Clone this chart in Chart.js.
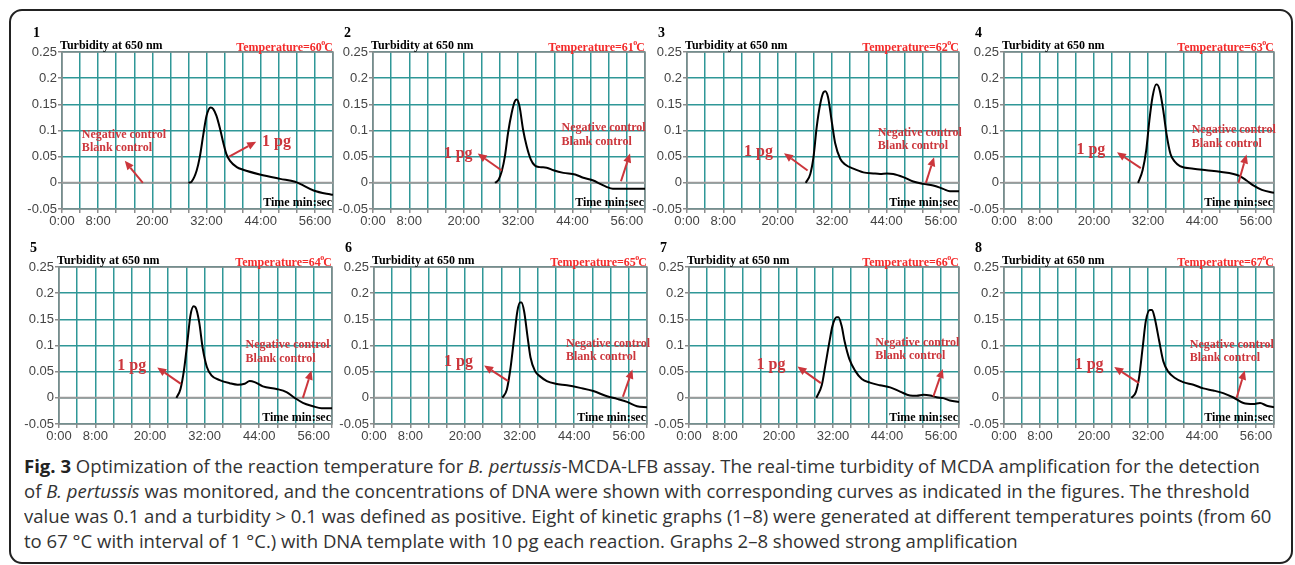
<!DOCTYPE html>
<html>
<head>
<meta charset="utf-8">
<script src="https://cdn.jsdelivr.net/npm/chart.js@4/dist/chart.umd.min.js"></script>
<style>
  html, body { margin:0; padding:0; background:#fff; }
  body { width:1295px; height:565px; position:relative; overflow:hidden; }
  #frame { position:absolute; left:9px; top:9px; width:1280px; height:551px; border:2px solid #222; border-radius:13px; }
  canvas { position:absolute; }
  .cap { position:absolute; left:24px; white-space:nowrap; transform-origin:0 0; font-family:"Open Sans", sans-serif; font-size:18px; line-height:25px; color:#333; }
  .cap b { font-weight:700; color:#222; }
</style>
</head>
<body>
<div id="frame"></div>

<div class="cap" style="top:454px"><b>Fig. 3</b> Optimization of the reaction temperature for <i>B. pertussis</i>-MCDA-LFB assay. The real-time turbidity of MCDA amplification for the detection</div>
<div class="cap" style="top:479px">of <i>B. pertussis</i> was monitored, and the concentrations of DNA were shown with corresponding curves as indicated in the figures. The threshold</div>
<div class="cap" style="top:504px">value was 0.1 and a turbidity &gt; 0.1 was defined as positive. Eight of kinetic graphs (1–8) were generated at different temperatures points (from 60</div>
<div class="cap" style="top:529px">to 67 °C with interval of 1 °C.) with DNA template with 10 pg each reaction. Graphs 2–8 showed strong amplification</div>

<script>
// ---------------- DATA ----------------
const panelNumbers = ['1','2','3','4','5','6','7','8'];
const temperatures = [60, 61, 62, 63, 64, 65, 66, 67];

const xTickMinutes = [0, 8, 20, 32, 44, 56];
const xTickLabels  = ['0:00', '8:00', '20:00', '32:00', '44:00', '56:00'];
const yTickValues  = [-0.05, 0, 0.05, 0.1, 0.15, 0.2, 0.25];
const yTickLabels  = ['-0.05', '0', '0.05', '0.1', '0.15', '0.2', '0.25'];

// control curves (negative control / blank control) – flat at 0
const controlTimes = [0, 60];
const controlValues = [0, 0];

// 1 pg turbidity curves (time in minutes, turbidity)
const t1 = [28.0, 28.7, 29.8, 30.5, 31.3, 32.0, 32.9, 33.5, 34.2, 35.0, 35.7, 36.4, 37.2, 38.7, 40.1, 43.8, 48.3, 51.6, 52.7, 55.7, 59.3, 60];
const v1 = [0, 0.0025, 0.023, 0.049, 0.093, 0.128, 0.144, 0.141, 0.128, 0.103, 0.077, 0.055, 0.042, 0.030, 0.025, 0.016, 0.0076, 0.002, -0.002, -0.0146, -0.022, -0.023];

const t2 = [26.9, 27.7, 28.4, 29.1, 29.8, 30.6, 31.3, 31.7, 32.3, 33.1, 33.9, 34.8, 35.7, 36.8, 38.3, 39.8, 42.0, 44.6, 46.4, 48.6, 50.1, 51.5, 52.9, 60];
const v2 = [0, 0.006, 0.022, 0.051, 0.096, 0.134, 0.156, 0.159, 0.147, 0.102, 0.070, 0.045, 0.033, 0.030, 0.029, 0.024, 0.019, 0.016, 0.0096, 0.0045, -0.002, -0.0077, -0.0115, -0.0115];

const t3 = [26.2, 27.2, 27.9, 28.6, 29.4, 30.1, 30.5, 31.1, 32.0, 32.7, 33.8, 34.9, 36.7, 38.9, 41.1, 42.6, 44.1, 45.5, 47.7, 49.9, 52.1, 54.3, 56.5, 58.0, 60];
const v3 = [0, 0.017, 0.049, 0.106, 0.151, 0.173, 0.175, 0.164, 0.113, 0.075, 0.046, 0.035, 0.027, 0.020, 0.018, 0.017, 0.018, 0.017, 0.011, 0.0026, -0.002, -0.005, -0.0115, -0.016, -0.016];

const t4 = [29.8, 30.8, 31.6, 32.3, 33.0, 33.8, 34.0, 34.6, 35.4, 36.1, 37.0, 38.0, 39.1, 42.1, 45.0, 48.0, 51.0, 52.4, 53.9, 55.4, 57.3, 60];
const v4 = [0, 0.024, 0.062, 0.119, 0.164, 0.188, 0.188, 0.177, 0.138, 0.094, 0.055, 0.040, 0.032, 0.027, 0.024, 0.021, 0.017, 0.013, 0.0045, -0.005, -0.0134, -0.019];

const t5 = [25.8, 26.7, 27.5, 28.2, 28.9, 29.6, 30.0, 30.8, 31.6, 32.5, 33.5, 35.3, 37.5, 39.3, 40.8, 41.9, 43.0, 44.8, 47.8, 50.0, 51.8, 53.6, 55.8, 57.7, 60];
const v5 = [0, 0.017, 0.055, 0.106, 0.158, 0.175, 0.173, 0.145, 0.094, 0.059, 0.043, 0.034, 0.028, 0.025, 0.027, 0.032, 0.030, 0.022, 0.017, 0.011, 0, -0.0096, -0.016, -0.020, -0.020];

const t6 = [28.2, 29.2, 30.0, 30.8, 31.5, 32.1, 32.4, 33.0, 33.7, 34.4, 35.4, 36.5, 38.0, 39.9, 42.4, 45.3, 48.2, 51.2, 53.4, 55.6, 57.8, 60];
const v6 = [0, 0.016, 0.057, 0.115, 0.165, 0.182, 0.182, 0.165, 0.120, 0.077, 0.051, 0.041, 0.032, 0.027, 0.024, 0.019, 0.013, 0.003, -0.002, -0.0077, -0.016, -0.018];

const t7 = [28.3, 29.5, 30.3, 31.2, 31.9, 32.8, 33.2, 33.9, 34.6, 35.6, 36.9, 38.4, 40.2, 42.4, 44.7, 46.9, 49.1, 50.6, 52.1, 53.6, 55.0, 56.5, 58.0, 60];
const v7 = [0, 0.024, 0.062, 0.107, 0.138, 0.154, 0.154, 0.138, 0.107, 0.075, 0.052, 0.036, 0.029, 0.024, 0.020, 0.012, 0.0045, 0.004, 0.006, 0.0045, 0.001, -0.0006, -0.005, -0.008];

const t8 = [28.3, 29.3, 30.0, 30.8, 31.5, 32.4, 32.9, 33.5, 34.5, 35.4, 36.5, 38.0, 39.8, 42.1, 44.3, 46.5, 48.7, 51.0, 53.2, 55.4, 56.9, 58.4, 60];
const v8 = [0, 0.011, 0.038, 0.095, 0.146, 0.168, 0.168, 0.152, 0.108, 0.070, 0.050, 0.038, 0.030, 0.025, 0.018, 0.014, 0.009, 0.0006, -0.010, -0.012, -0.010, -0.015, -0.018];

const curveTimes  = [t1, t2, t3, t4, t5, t6, t7, t8];
const curveValues = [v1, v2, v3, v4, v5, v6, v7, v8];

// annotation anchors in data coordinates [minutes, turbidity]
const ncText  = [[4.4,0.086],[41.6,0.099],[42.1,0.090],[41.7,0.095],[41.0,0.0945],[42.2,0.098],[41.4,0.0995],[41.3,0.096]];
const ncArrow = [[17.9,0.0,13.9,0.042],[54.7,0.003,56.7,0.056],[52.7,0.0,54.5,0.049],[52.1,0.0,53.9,0.054],[53.6,0.0,55.5,0.052],[54.7,0.002,56.8,0.054],[54.3,0.0025,56.4,0.055],[51.7,0.0,53.5,0.052]];
const pgText  = [[44.3,0.0696],[15.6,0.0465],[12.6,0.052],[16.1,0.0554],[12.8,0.054],[15.4,0.060],[15.0,0.055],[15.7,0.055]];
const pgArrow = [[37.0,0.050,43.0,0.0785],[28.4,0.0235,23.1,0.056],[26.6,0.0235,21.4,0.0566],[30.4,0.028,25.1,0.0585],[26.8,0.0267,21.6,0.058],[29.5,0.032,24.2,0.062],[29.3,0.028,24.1,0.060],[30.0,0.028,24.5,0.059]];

// ---------------- LAYOUT (plot-area boxes) ----------------
const plotBoxes = [
  [62, 52, 333, 209], [373, 52, 645, 209], [687, 52, 959, 209], [1004, 52, 1274, 209],
  [59, 267, 332, 424], [374, 267, 647, 424], [689, 267, 959, 424], [1004, 267, 1274, 424]
];
const PAD_L = 45, PAD_T = 30, PAD_R = 10, PAD_B = 25;

const TEAL = '#2f9797';
const BORDER = '#8c8c8c';
const ANNOT_RED = '#cc363c';
const TEMP_RED = '#f42a2a';
const SERIF = '"Liberation Serif", "Times New Roman", serif';
const SANS = '"Liberation Sans", Arial, sans-serif';

function drawArrow(ctx, x0, y0, x1, y1) {
  const ang = Math.atan2(y1 - y0, x1 - x0);
  const hl = 9, hw = 4;
  const bx = x1 - hl * Math.cos(ang), by = y1 - hl * Math.sin(ang);
  ctx.beginPath();
  ctx.moveTo(x0, y0); ctx.lineTo(bx, by);
  ctx.stroke();
  ctx.beginPath();
  ctx.moveTo(x1, y1);
  ctx.lineTo(bx + hw * Math.sin(ang), by - hw * Math.cos(ang));
  ctx.lineTo(bx - hw * Math.sin(ang), by + hw * Math.cos(ang));
  ctx.closePath();
  ctx.fill();
}

const framePlugin = {
  id: 'frame',
  beforeDatasetsDraw(chart) {
    const { ctx, chartArea: a } = chart;
    ctx.save();
    ctx.strokeStyle = BORDER;
    ctx.lineWidth = 1.5;
    ctx.strokeRect(a.left, a.top, a.right - a.left, a.bottom - a.top);
    ctx.restore();
  }
};

const textPlugin = {
  id: 'texts',
  afterDraw(chart, args, opts) {
    const i = opts.index;
    const { ctx, chartArea: a, scales } = chart;
    const X = v => scales.x.getPixelForValue(v);
    const Y = v => scales.y.getPixelForValue(v);
    ctx.save();
    // panel number
    ctx.fillStyle = '#000';
    ctx.textAlign = 'left'; ctx.textBaseline = 'alphabetic';
    ctx.font = 'bold 14px ' + SERIF;
    ctx.fillText(panelNumbers[i], a.left - 29, a.top - 15);
    // y title
    ctx.font = 'bold 12px ' + SERIF;
    ctx.fillText('Turbidity at 650 nm', a.left - 2, a.top - 3);
    // temperature
    ctx.fillStyle = TEMP_RED;
    ctx.font = 'bold 12px ' + SERIF;
    const wC = ctx.measureText('C').width;
    const cx = a.right - wC;
    ctx.fillText('C', cx, a.top - 1.5);
    ctx.font = 'bold 8px ' + SERIF;
    const wo = ctx.measureText('o').width;
    ctx.fillText('o', cx - wo + 1, a.top - 7);
    ctx.font = 'bold 12px ' + SERIF;
    ctx.textAlign = 'right';
    ctx.fillText('Temperature=' + temperatures[i], cx - wo + 1.5, a.top - 1.5);
    // x title
    ctx.fillStyle = '#000';
    ctx.fillText('Time min:sec', a.right - 1, a.bottom - 3);
    // annotations
    ctx.textAlign = 'left';
    ctx.fillStyle = ANNOT_RED;
    ctx.strokeStyle = ANNOT_RED;
    ctx.lineWidth = 2;
    ctx.font = 'bold 12px ' + SERIF;
    const nx = X(ncText[i][0]), ny = Y(ncText[i][1]);
    ctx.fillText('Negative control', nx, ny);
    ctx.fillText('Blank control', nx, ny + 13.5);
    const na = ncArrow[i];
    drawArrow(ctx, X(na[0]), Y(na[1]), X(na[2]), Y(na[3]));
    ctx.font = 'bold 16px ' + SERIF;
    ctx.fillText('1 pg', X(pgText[i][0]), Y(pgText[i][1]));
    const pa = pgArrow[i];
    drawArrow(ctx, X(pa[0]), Y(pa[1]), X(pa[2]), Y(pa[3]));
    ctx.restore();
  }
};

plotBoxes.forEach((b, i) => {
  const [L, T, R, B] = b;
  const c = document.createElement('canvas');
  const W = (R - L) + PAD_L + PAD_R, H = (B - T) + PAD_T + PAD_B;
  c.width = W; c.height = H;
  c.style.left = (L - PAD_L) + 'px';
  c.style.top = (T - PAD_T) + 'px';
  c.style.width = W + 'px'; c.style.height = H + 'px';
  document.body.appendChild(c);

  const control = controlTimes.map((t, k) => ({ x: t, y: controlValues[k] }));
  const curve = curveTimes[i].map((t, k) => ({ x: t, y: curveValues[i][k] }));

  new Chart(c, {
    type: 'line',
    data: {
      datasets: [
        { label: 'Negative / Blank control', data: control, borderColor: '#9a9a9a', borderWidth: 2, pointRadius: 0, order: 2 },
        { label: '1 pg', data: curve, borderColor: '#000', borderWidth: 2, pointRadius: 0, cubicInterpolationMode: 'monotone', order: 1 }
      ]
    },
    options: {
      responsive: false,
      animation: false,
      events: [],
      devicePixelRatio: 1,
      layout: { padding: { top: PAD_T, right: PAD_R, left: 0, bottom: 0 } },
      plugins: { legend: { display: false }, tooltip: { enabled: false }, texts: { index: i } },
      scales: {
        x: {
          type: 'linear', min: 0, max: 60,
          ticks: {
            stepSize: 4, autoSkip: false, maxRotation: 0, padding: 1,
            color: '#444', font: { family: SANS, size: 13 },
            callback: v => { const k = xTickMinutes.indexOf(Math.round(v)); return k >= 0 ? xTickLabels[k] : ''; }
          },
          grid: { color: TEAL, lineWidth: 1.5, tickLength: 4, tickColor: BORDER },
          border: { display: false },
          afterFit: s => { s.height = PAD_B; }
        },
        y: {
          type: 'linear', min: -0.05, max: 0.25,
          ticks: {
            stepSize: 0.05, padding: 1,
            color: '#444', font: { family: SANS, size: 13 },
            callback: v => { const k = yTickValues.findIndex(t => Math.abs(t - v) < 1e-6); return k >= 0 ? yTickLabels[k] : ''; }
          },
          grid: { color: TEAL, lineWidth: 1.5, tickLength: 4, tickColor: BORDER },
          border: { display: false },
          afterFit: s => { s.width = PAD_L; }
        }
      }
    },
    plugins: [framePlugin, textPlugin]
  });
});

// caption: condense to the reference line width
const caps = document.querySelectorAll('.cap');
const natural = caps[0].getBoundingClientRect().width;
const sx = 1236 / natural;
caps.forEach(el => { el.style.transform = 'scaleX(' + sx + ')'; });
</script>
</body>
</html>
